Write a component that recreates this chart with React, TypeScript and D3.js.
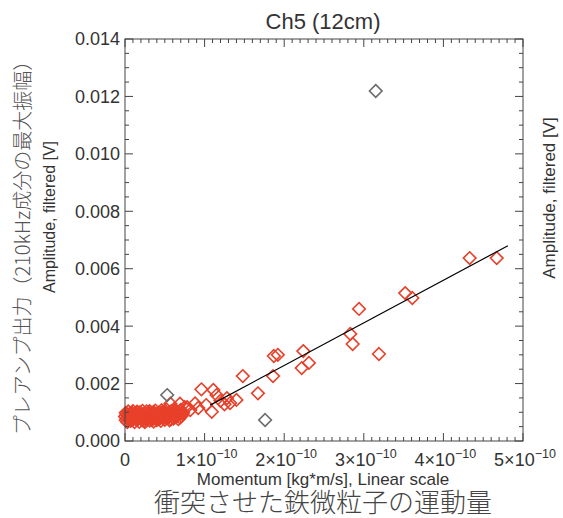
import React from "react";
import * as d3 from "d3";

// momentum in units of 1e-10 kg*m/s, amplitude in V
const clusterPoints: [number, number][] = [
  [0.00, 0.00085], [0.01, 0.00072], [0.01, 0.00098], [0.02, 0.0008], [0.02, 0.00092],
  [0.03, 0.00066], [0.04, 0.00088], [0.04, 0.00103], [0.05, 0.00076], [0.06, 0.00094],
  [0.07, 0.00083], [0.07, 0.0007], [0.08, 0.00099], [0.09, 0.00087], [0.1, 0.00075],
  [0.1, 0.00104], [0.11, 0.00091], [0.12, 0.00066], [0.12, 0.00082], [0.13, 0.00097],
  [0.14, 0.00088], [0.15, 0.00073], [0.15, 0.00102], [0.16, 0.0008], [0.17, 0.00093],
  [0.18, 0.00067], [0.18, 0.00086], [0.19, 0.001], [0.2, 0.00078], [0.21, 0.0009],
  [0.22, 0.00105], [0.22, 0.00072], [0.23, 0.00084], [0.24, 0.00096], [0.25, 0.00079],
  [0.25, 0.00066], [0.26, 0.00092], [0.27, 0.00103], [0.28, 0.00083], [0.28, 0.00074],
  [0.29, 0.00095], [0.3, 0.00087], [0.31, 0.00071], [0.31, 0.00104], [0.32, 0.0008],
  [0.33, 0.00091], [0.34, 0.00098], [0.35, 0.00076], [0.35, 0.00086], [0.36, 0.00068],
  [0.37, 0.00094], [0.38, 0.00082], [0.38, 0.00106], [0.39, 0.00089], [0.4, 0.00073],
  [0.41, 0.00097], [0.42, 0.00085], [0.42, 0.00078], [0.43, 0.001], [0.44, 0.00091],
  [0.45, 0.0007], [0.45, 0.00083], [0.46, 0.00107], [0.47, 0.00094], [0.48, 0.00079],
  [0.49, 0.00088], [0.5, 0.00099], [0.5, 0.00074], [0.51, 0.00086], [0.52, 0.0011],
  [0.53, 0.00092], [0.54, 0.00081], [0.55, 0.00097], [0.56, 0.00072], [0.57, 0.00089],
  [0.58, 0.00104], [0.59, 0.00085], [0.6, 0.00095], [0.61, 0.00078], [0.62, 0.00112],
  [0.63, 0.00091], [0.64, 0.00083], [0.65, 0.001], [0.66, 0.00088], [0.67, 0.00076],
  [0.68, 0.00096], [0.7, 0.00108], [0.71, 0.00087], [0.73, 0.00098], [0.75, 0.00118],
  [0.03, 0.0009], [0.06, 0.0008], [0.09, 0.00095], [0.13, 0.00078], [0.16, 0.001],
  [0.19, 0.00083], [0.24, 0.0007], [0.27, 0.00088], [0.3, 0.00099], [0.33, 0.00074],
  [0.36, 0.00101], [0.4, 0.00084], [0.43, 0.00076], [0.47, 0.001], [0.52, 0.0008],
  [0.55, 0.00088], [0.58, 0.00076], [0.61, 0.00102], [0.64, 0.00094], [0.69, 0.00082],
];

const scatterPoints: [number, number][] = [
  [0.57, 0.0013], [0.69, 0.0013], [0.71, 0.00096], [0.78, 0.00118], [0.82, 0.00108],
  [0.88, 0.00131], [0.92, 0.00115], [0.96, 0.0018], [1.02, 0.00125], [1.09, 0.00102],
  [1.11, 0.00178], [1.15, 0.0016], [1.2, 0.0014], [1.25, 0.00128], [1.28, 0.00149],
  [1.32, 0.00132], [1.4, 0.00143], [1.48, 0.00226], [1.67, 0.00166], [1.86, 0.00226],
  [1.87, 0.00296], [1.92, 0.003], [2.22, 0.00254], [2.24, 0.00313], [2.31, 0.00272],
  [2.83, 0.00373], [2.86, 0.00338], [2.94, 0.0046], [3.19, 0.00303], [3.52, 0.00515],
  [3.61, 0.00498], [4.33, 0.00637], [4.67, 0.00637],
];

const excludedPoints: [number, number][] = [
  [0.53, 0.0016], [1.76, 0.00073], [3.15, 0.01219],
];

const fitLine: [number, number][] = [[1.07, 0.00125], [4.81, 0.0068]];

const xMajor = [0, 1, 2, 3, 4, 5];
const yMajor = [0, 0.002, 0.004, 0.006, 0.008, 0.01, 0.012, 0.014];

const W = 563;
const H = 518;
const left = 125, right = 523, top = 39, bottom = 441;

export default function App() {
  const x = d3.scaleLinear().domain([0, 5]).range([left, right]);
  const y = d3.scaleLinear().domain([0, 0.014]).range([bottom, top]);
  const xMinor = d3.range(0, 50).map((i) => i / 10).filter((v) => Math.abs(v - Math.round(v)) > 1e-6);
  const yMinor = d3.range(0, 28).map((i) => i * 0.0005).filter((v) => Math.abs(v / 0.002 - Math.round(v / 0.002)) > 1e-6);
  const r = 6.3;
  const diamond = (p: [number, number]) => {
    const cx = x(p[0]), cy = y(p[1]);
    return `M${cx},${cy - r}L${cx + r},${cy}L${cx},${cy + r}L${cx - r},${cy}Z`;
  };
  const line = d3.line<[number, number]>().x((d) => x(d[0])).y((d) => y(d[1]));
  const helv = "'Liberation Sans', Arial, Helvetica, sans-serif";
  const cjk = "'Noto Sans CJK JP', sans-serif";
  const axisColor = "#444";
  const red = "#e8402a";

  return (
    <svg width={W} height={H} style={{ position: "absolute", left: 0, top: 0, background: "#fff" }}>
      <rect x={0} y={0} width={W} height={H} fill="#fff" />
      {/* points */}
      <g fill="none" stroke={red} strokeWidth={1.6}>
        {clusterPoints.map((p, i) => <path key={"c" + i} d={diamond(p)} />)}
        {scatterPoints.map((p, i) => <path key={"s" + i} d={diamond(p)} />)}
      </g>
      <g fill="none" stroke="#6a6a6a" strokeWidth={1.6}>
        {excludedPoints.map((p, i) => <path key={"e" + i} d={diamond(p)} />)}
      </g>
      <path d={line(fitLine) || ""} stroke="#000" strokeWidth={1.2} fill="none" />

      {/* frame and ticks */}
      <g stroke={axisColor} strokeWidth={1}>
        <rect x={left} y={top} width={right - left} height={bottom - top} fill="none" />
        {xMajor.map((v) => (
          <g key={"xM" + v}>
            <line x1={x(v)} x2={x(v)} y1={bottom} y2={bottom - 8} />
            <line x1={x(v)} x2={x(v)} y1={top} y2={top + 8} />
          </g>
        ))}
        {xMinor.map((v) => (
          <g key={"xm" + v}>
            <line x1={x(v)} x2={x(v)} y1={bottom} y2={bottom - 4} />
            <line x1={x(v)} x2={x(v)} y1={top} y2={top + 4} />
          </g>
        ))}
        {yMajor.map((v) => (
          <g key={"yM" + v}>
            <line x1={left} x2={left + 8} y1={y(v)} y2={y(v)} />
            <line x1={right} x2={right - 8} y1={y(v)} y2={y(v)} />
          </g>
        ))}
        {yMinor.map((v) => (
          <g key={"ym" + v}>
            <line x1={left} x2={left + 4} y1={y(v)} y2={y(v)} />
            <line x1={right} x2={right - 4} y1={y(v)} y2={y(v)} />
          </g>
        ))}
      </g>

      {/* tick labels */}
      <g fontFamily={helv} fontSize={18} fill="#333">
        {yMajor.map((v) => (
          <text key={"yl" + v} x={left - 5} y={y(v)} dy="0.36em" textAnchor="end">
            {v.toFixed(3)}
          </text>
        ))}
        {xMajor.map((v) => (
          <text key={"xl" + v} x={x(v) + (v === 0 ? 0 : 2)} y={bottom + 25} textAnchor="middle">
            {v === 0 ? "0" : (
              <>
                {v + "×10"}
                <tspan fontSize={12.5} dy={-8}>−10</tspan>
              </>
            )}
          </text>
        ))}
      </g>

      <text x={323} y={29} textAnchor="middle" fontFamily={helv} fontSize={22} fill="#333">Ch5 (12cm)</text>
      <text x={323} y={485} textAnchor="middle" fontFamily={helv} fontSize={17} fill="#333">
        Momentum [kg*m/s], Linear scale
      </text>
      <text x={323} y={512} textAnchor="middle" fontFamily={cjk} fontWeight={300} fontSize={26} fill="#444">
        衝突させた鉄微粒子の運動量
      </text>
      <text transform="translate(55,217) rotate(-90)" textAnchor="middle" fontFamily={helv} fontSize={16} fill="#333">
        Amplitude, filtered [V]
      </text>
      <text transform="translate(555,198) rotate(-90)" textAnchor="middle" fontFamily={helv} fontSize={17} fill="#333">
        Amplitude, filtered [V]
      </text>
      <text transform="translate(30,243) rotate(-90)" textAnchor="middle" fontFamily={cjk} fontWeight={300} fontSize={20} fill="#555">
        プレアンプ出力（210kHz成分の最大振幅）
      </text>
    </svg>
  );
}
